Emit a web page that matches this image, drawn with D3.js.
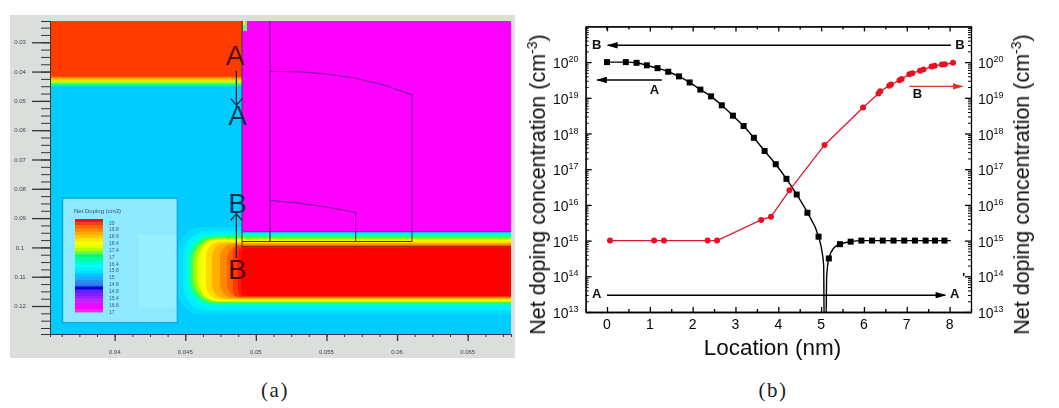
<!DOCTYPE html>
<html><head><meta charset="utf-8">
<script src="https://cdnjs.cloudflare.com/ajax/libs/d3/7.8.5/d3.min.js"></script>
<style>html,body{margin:0;padding:0;background:#fff}svg{display:block}text{font-family:"Liberation Sans",Arial,sans-serif}</style>
</head><body><svg id="c" width="1059" height="408"></svg>
<script>
// ---------- panel (b) data: location (nm) and log10(net doping)
const blackX =[0,0.44,0.69,0.93,1.18,1.43,1.68,1.93,2.18,2.43,2.68,2.94,3.19,3.43,3.68,3.94,4.19,4.43,4.68,4.94,5.02,5.06,5.07,5.115,5.13,5.18,5.3,5.44,5.69,5.94,6.19,6.44,6.69,6.94,7.19,7.44,7.66,7.88,8.03];
const blackE =[20,20,19.98,19.91,19.83,19.73,19.6,19.43,19.23,19.04,18.79,18.5,18.21,17.88,17.51,17.14,16.73,16.29,15.78,15.11,14.7,14.3,12.8,12.8,14,14.5,14.8,14.9,14.97,15,15,15,15,15,15,15,15,15,15];
const blackMarked=[1,1,1,1,1,1,1,1,1,1,1,1,1,1,1,1,1,1,1,1,0,0,0,0,0,1,0,1,1,1,1,1,1,1,1,1,1,1,0];
const redX=[0.07,1.1,1.33,2.35,2.57,3.6,3.83,4.26,5.08,5.98,6.34,6.38,6.59,6.63,6.83,6.88,7.06,7.13,7.31,7.39,7.58,7.65,7.82,7.89,8.08];
const redE=[15,15,15,15,15,15.58,15.67,16.41,17.68,18.73,19.12,19.18,19.34,19.37,19.49,19.53,19.66,19.69,19.76,19.79,19.88,19.9,19.93,19.94,19.98];
const xTicksB=[0,1,2,3,4,5,6,7,8];
const xMinorB=[-0.5,0.5,1.5,2.5,3.5,4.5,5.5,6.5,7.5,8.5];
const decades=[13,14,15,16,17,18,19,20];
const minorMult=[2,3,4,5,6,7,8,9];
// arrows: [x0,e0,x1,e1,colour]
const arrowsB=[[8.03,20.47,0.02,20.47,"#000"],[0,13.47,7.9,13.47,"#000"],[1.28,19.5,-0.23,19.5,"#000"],[7.06,19.32,8.3,19.32,"#e03020"]];
const labelsB=[["B",-0.24,20.38],["B",8.24,20.38],["A",-0.24,13.38],["A",8.12,13.38],["A",1.11,19.12],["B",7.25,19.0]];
const primesB=[["'",0,20.74],["'",8.33,13.85]];
// ---------- panel (a) data: device coordinates (um)
const xTicksA=[0.04,0.045,0.05,0.055,0.06,0.065];
const xLabelsA=["0.04","0.045","0.05","0.055","0.06","0.065"];
const yTicksA=[0.03,0.04,0.05,0.06,0.07,0.08,0.09,0.1,0.11,0.12];
const topStops=[[0.0415,"#ff3a00"],[0.0425,"#ffc000"],[0.0435,"#c8ff00"],[0.0445,"#00ff99"],[0.0455,"#00ccff"]];
// nested doping contours: colour, left edge, top, bottom
const contourColor=["#00dcff","#00f0ff","#00ffd0","#30ff60","#a0ff00","#e8ff00","#ffff00","#ffd800","#ffb000","#ff8800","#ff6000","#ff3800","#ff1800","#ff0000"];
const contourLeft =[0.04448,0.04484,0.04512,0.04533,0.04555,0.04583,0.04611,0.04647,0.04689,0.04746,0.04795,0.04838,0.04873,0.04895];
const contourTop  =[0.0930,0.0945,0.0955,0.0962,0.0968,0.0971,0.0974,0.0980,0.0985,0.0988,0.0992,0.0995,0.0998,0.1002];
const contourBot  =[0.1230,0.1215,0.1200,0.1192,0.1187,0.1184,0.1181,0.1178,0.1175,0.1173,0.1171,0.1169,0.1167,0.1165];
const gateOuterX=[0.051,0.053,0.055,0.057,0.059,0.06106,0.06106];
const gateOuterY=[0.03996,0.04,0.0408,0.0422,0.0445,0.04797,0.098];
const gateInnerX=[0.051,0.053,0.055,0.05707,0.05707];
const gateInnerY=[0.0840,0.0848,0.0862,0.0881,0.098];
const legendColors=["#e81030","#ff3a00","#ff6a00","#ff8c00","#ffab00","#ffc800","#ffe600","#ffff00","#e8ff00","#b4ff00","#66ff33","#00ff66","#00ffaa","#00ffcc","#00ffee","#00f0ff","#00e0ff","#00c8ff","#20a8ff","#2090f0","#3078e8","#0000e0","#6020ff","#8020ff","#a020ff","#c020ff","#e010ff","#ff00ff","#ff20f0"];
const legendLabels=["20","19.8","18.8","18.4","17.4","17","16.4","15.8","15","14.8","14.8","15.4","16.8","17"];

const svg=d3.select("#c");
const defs=svg.append("defs");
function head(id,col){defs.append("marker").attr("id",id).attr("viewBox","0 0 10 6").attr("refX",9).attr("refY",3)
 .attr("markerUnits","userSpaceOnUse").attr("markerWidth",11).attr("markerHeight",6.5).attr("orient","auto")
 .append("path").attr("d","M0,0L10,3L0,6Z").attr("fill",col);}
head("hk","#000");head("hr","#e03020");
defs.append("filter").attr("id","blur").append("feGaussianBlur").attr("stdDeviation",0.6);
defs.append("filter").attr("id","blur2").append("feGaussianBlur").attr("stdDeviation",0.3);

// ===== panel (a)
const xa=d3.scaleLinear().domain([0.03542,0.06807]).range([50,511]);
const ya=d3.scaleLinear().domain([0.02274,0.12955]).range([21,334]);
const A=svg.append("g").attr("filter","url(#blur)");
A.append("rect").attr("x",10).attr("y",15).attr("width",505).attr("height",343).attr("fill","#dcdedc");
defs.append("clipPath").attr("id","ca").append("rect").attr("x",50).attr("y",21).attr("width",461).attr("height",313);
const P=A.append("g").attr("clip-path","url(#ca)");
P.append("rect").attr("x",50).attr("y",21).attr("width",461).attr("height",313).attr("fill","#00ccff");
const boundary=0.04902, magBottom=0.09468;
// top source region
const g1=defs.append("linearGradient").attr("id","gt").attr("gradientUnits","userSpaceOnUse").attr("x1",0).attr("x2",0)
 .attr("y1",ya(topStops[0][0])).attr("y2",ya(topStops[topStops.length-1][0]));
topStops.forEach((s,i)=>g1.append("stop").attr("offset",i/(topStops.length-1)).attr("stop-color",s[1]));
P.append("rect").attr("x",xa.range()[0]).attr("y",21).attr("width",xa(boundary)-50).attr("height",ya(0.0455)-21).attr("fill","url(#gt)");
// bottom doped region
P.selectAll("rect.ct").data(contourColor).join("rect").attr("class","ct")
 .attr("x",(d,i)=>xa(contourLeft[i])).attr("width",(d,i)=>600-xa(contourLeft[i]))
 .attr("y",(d,i)=>ya(contourTop[i])).attr("height",(d,i)=>ya(contourBot[i])-ya(contourTop[i]))
 .attr("rx",(d,i)=>i<6?24:i<11?14:6).attr("fill",d=>d);
// magenta body
P.append("rect").attr("x",xa(boundary)).attr("y",21).attr("width",511-xa(boundary)).attr("height",ya(magBottom)-21).attr("fill","#ff00ff");
P.append("rect").attr("x",xa(boundary)+1).attr("y",21).attr("width",4).attr("height",ya(0.0262)-21).attr("fill","#60ff60");
P.append("rect").attr("x",xa(boundary)+1).attr("y",21).attr("width",2).attr("height",ya(0.0242)-21).attr("fill","#ffee00");
const devLine=d3.line().x(d=>xa(d[0])).y(d=>ya(d[1]));
P.append("path").attr("d",devLine([[boundary,0.02274],[boundary,magBottom]])).attr("fill","none").attr("stroke","#304060").attr("stroke-width",1);
P.append("path").attr("d",devLine([[boundary,magBottom],[boundary,0.0998],[0.0681,0.0998]])).attr("fill","none").attr("stroke","#902010").attr("stroke-width",1.1);
P.append("path").attr("d",devLine([[boundary,magBottom],[0.0681,magBottom]])).attr("fill","none").attr("stroke","#4030e0").attr("stroke-width",1);
P.append("path").attr("d",devLine([[0.051,0.02274],[0.051,0.098]])).attr("fill","none").attr("stroke","#8a10a8").attr("stroke-width",1.4);
P.append("path").attr("d",devLine(d3.zip(gateOuterX,gateOuterY))).attr("fill","none").attr("stroke","#7a10a0").attr("stroke-width",1.1);
P.append("path").attr("d",devLine(d3.zip(gateInnerX,gateInnerY))).attr("fill","none").attr("stroke","#7a10a0").attr("stroke-width",1.1);
P.append("path").attr("d",devLine([[boundary,0.098],[0.06106,0.098]])).attr("fill","none").attr("stroke","#303040").attr("stroke-width",1.1);
// legend
const L=A.append("g");
L.append("rect").attr("x",xa(0.03632)).attr("y",ya(0.0832)).attr("width",xa(0.04443)-xa(0.03632)).attr("height",ya(0.1257)-ya(0.0832)).attr("fill","#8ee8ff").attr("stroke","#0a9cc0").attr("stroke-width",1);
L.append("rect").attr("x",xa(0.04435)-38).attr("y",ya(0.0955)).attr("width",38).attr("height",ya(0.1205)-ya(0.0955)).attr("fill","#96f0ff");
L.append("text").attr("x",74).attr("y",212.5).attr("font-size",6).attr("fill","#305070").text("Net Doping (cm3)");
const lb=d3.scaleBand().domain(d3.range(legendColors.length)).range([219,312]);
L.selectAll("rect.lb").data(legendColors).join("rect").attr("class","lb").attr("x",75).attr("width",28)
 .attr("y",(d,i)=>lb(i)).attr("height",lb.bandwidth()+0.4).attr("fill",d=>d);
const ll=d3.scalePoint().domain(d3.range(legendLabels.length)).range([222.5,311.5]);
L.selectAll("text.ll").data(legendLabels).join("text").attr("class","ll").attr("x",109).attr("y",(d,i)=>ll(i)+2)
 .attr("font-size",5).attr("fill","#406070").text(d=>d);
// axes of (a)
const axisCol="#303838";
function minorA(t,step,n){const o=[];t.forEach(v=>{for(let k=-n;k<=n;k++)o.push(+(v+k*step).toFixed(5));});return Array.from(new Set(o));}
const gx=A.append("g").attr("transform","translate(0,334)");
gx.call(d3.axisBottom(xa).tickValues(minorA(xTicksA,0.00125,3).filter(v=>v>xa.domain()[0]&&v<xa.domain()[1])).tickSize(3).tickFormat(""));
gx.call(g=>g.selectAll("line,path").attr("stroke",axisCol));
const gx2=A.append("g").attr("transform","translate(0,334)");
gx2.call(d3.axisBottom(xa).tickValues(xTicksA).tickSize(7).tickFormat(""));
gx2.call(g=>g.selectAll("line").attr("stroke",axisCol).attr("stroke-width",1.3));gx2.select("path").remove();
A.selectAll("text.xa").data(xTicksA).join("text").attr("class","xa").attr("x",d=>xa(d)).attr("y",353.5).attr("text-anchor","middle").attr("font-size",6).attr("fill","#404848").text((d,i)=>xLabelsA[i]);
const gy=A.append("g").attr("transform","translate(50,0)");
gy.call(d3.axisLeft(ya).tickValues(minorA(yTicksA,0.0025,3).filter(v=>v>ya.domain()[0]&&v<ya.domain()[1])).tickSize(9).tickFormat(""));
gy.call(g=>g.selectAll("line,path").attr("stroke",axisCol));
const gy2=A.append("g").attr("transform","translate(50,0)");
gy2.call(d3.axisLeft(ya).tickValues(yTicksA).tickSize(18).tickFormat(""));
gy2.call(g=>g.selectAll("line").attr("stroke",axisCol).attr("stroke-width",1.3));gy2.select("path").remove();
A.selectAll("text.ya").data(yTicksA).join("text").attr("class","ya").attr("x",20).attr("y",d=>ya(d)+2.2).attr("text-anchor","middle").attr("font-size",6).attr("fill","#404848").text(d=>String(d));
// A/B marks on (a)
const Am=svg.append("g").attr("filter","url(#blur2)");
[["A",0.04855,0.03774,"#500a14"],["A",0.0487,0.0582,"#02304e"],["B",0.0487,0.0882,"#02304e"],["B",0.0487,0.1107,"#500010"]].forEach(d=>{
 Am.append("text").attr("x",xa(d[1])).attr("y",ya(d[2])).attr("text-anchor","middle").attr("font-size",28).attr("fill",d[3]).text(d[0]);});
[[[0.04862,0.0398],[0.04862,0.0515]],[[0.04822,0.0492],[0.04862,0.0515],[0.04902,0.0492]],[[0.04862,0.1036],[0.04862,0.0885]],[[0.04822,0.0908],[0.04862,0.0885],[0.04902,0.0908]]].forEach(p=>
 Am.append("path").attr("d",devLine(p)).attr("stroke","#123").attr("stroke-width",1.2).attr("fill","none"));

// ===== panel (b)
const x=d3.scaleLinear().domain([-0.5,8.5]).range([585.6,971]);
const y=d3.scaleLog().domain([1e13,1e21]).range([312,26.4]);
const E=e=>Math.pow(10,e);
defs.append("clipPath").attr("id","cb").append("rect").attr("x",585.6).attr("y",26.4).attr("width",385.4).attr("height",285.6);
const minors=[];decades.forEach(d=>minorMult.forEach(m=>minors.push(m*E(d))));
function st(g,w){g.selectAll("line,path").attr("stroke","#000").attr("stroke-width",w);}
const B=svg.append("g").attr("filter","url(#blur2)");
[[d3.axisBottom,312],[d3.axisTop,26.4]].forEach(([ax,ty])=>{
 B.append("g").attr("transform",`translate(0,${ty})`).call(ax(x).tickValues(xMinorB).tickSize(-3).tickFormat("").tickSizeOuter(0)).call(st,1.3);
 B.append("g").attr("transform",`translate(0,${ty})`).call(ax(x).tickValues(xTicksB).tickSize(-5).tickFormat("").tickSizeOuter(0)).call(st,1.3);
});
[[d3.axisLeft,585.6],[d3.axisRight,971]].forEach(([ax,tx])=>{
 B.append("g").attr("transform",`translate(${tx},0)`).call(ax(y).tickValues(minors).tickSize(-3).tickFormat("").tickSizeOuter(0)).call(st,1);
 B.append("g").attr("transform",`translate(${tx},0)`).call(ax(y).tickValues(decades.map(E)).tickSize(-6).tickFormat("").tickSizeOuter(0)).call(st,1.3);
});
B.selectAll("text.xb").data(xTicksB).join("text").attr("class","xb").attr("x",d=>x(d)).attr("y",329).attr("text-anchor","middle").attr("font-size",14).text(d=>d);
[553,978].forEach(px=>{
 const t=B.selectAll("text.yb"+px).data(decades).join("text").attr("class","yb"+px).attr("x",px).attr("y",d=>y(E(d))+6).attr("font-size",14).attr("fill","#111");
 t.append("tspan").text("10");
 t.append("tspan").attr("dy",-6).attr("font-size",9).text(d=>d);
});
B.append("text").attr("x",772.5).attr("y",355).attr("text-anchor","middle").attr("font-size",22.5).attr("fill","#111").text("Location (nm)");
[545,1029].forEach(px=>{
 const t=B.append("text").attr("transform",`translate(${px},184.5) rotate(-90)`).attr("text-anchor","middle").attr("font-size",21.5).attr("fill","#111");
 t.append("tspan").text("Net doping concentration (cm");
 t.append("tspan").attr("dy",-8).attr("font-size",14).text("-3");
 t.append("tspan").attr("dy",8).text(")");
});
const pts=B.append("g").attr("clip-path","url(#cb)");
const line=d3.line().x(d=>x(d[0])).y(d=>y(E(d[1])));
pts.append("path").attr("d",line.curve(d3.curveMonotoneX)(d3.zip(blackX,blackE))).attr("fill","none").attr("stroke","#000").attr("stroke-width",1.4);
pts.selectAll("rect.s").data(d3.zip(blackX,blackE,blackMarked).filter(d=>d[2])).join("rect").attr("class","s")
 .attr("x",d=>x(d[0])-3).attr("y",d=>y(E(d[1]))-3).attr("width",6).attr("height",6).attr("fill","#000");
const lineR=d3.line().x(d=>x(d[0])).y(d=>y(E(d[1])));
pts.append("path").attr("d",lineR(d3.zip(redX,redE))).attr("fill","none").attr("stroke","#d81c34").attr("stroke-width",1.3);
pts.selectAll("circle.r").data(d3.zip(redX,redE)).join("circle").attr("class","r").attr("cx",d=>x(d[0])).attr("cy",d=>y(E(d[1]))).attr("r",3).attr("fill","#f01020");
arrowsB.forEach(a=>{
 B.append("path").attr("d",lineR([[a[0],a[1]],[a[2],a[3]]])).attr("fill","none").attr("stroke",a[4]).attr("stroke-width",1.4)
  .attr("marker-end",a[4]=="#000"?"url(#hk)":"url(#hr)");
});
labelsB.forEach(l=>B.append("text").attr("x",x(l[1])).attr("y",y(E(l[2]))).attr("text-anchor","middle").attr("font-size",13).attr("font-weight",700).attr("fill","#111").text(l[0]));
primesB.forEach(l=>B.append("text").attr("x",x(l[1])).attr("y",y(E(l[2]))).attr("text-anchor","middle").attr("font-size",12).attr("font-weight",700).text(l[0]));
// captions
[["(a)",275],["(b)",773]].forEach(c=>svg.append("text").attr("x",c[1]).attr("y",397).attr("text-anchor","middle").attr("font-size",21).attr("letter-spacing",1.5).style("font-family","'Liberation Serif',serif").attr("fill","#222").text(c[0]));
</script></body></html>
